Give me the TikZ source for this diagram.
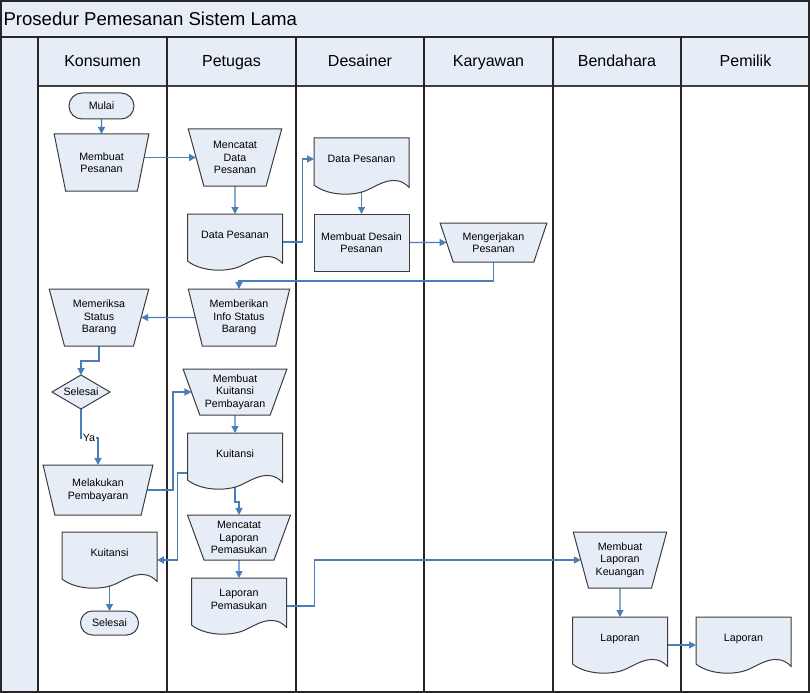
\documentclass[tikz,border=0pt]{standalone}
\usepackage{fontspec}
\setmainfont{Liberation Sans}
\usetikzlibrary{shapes.geometric,shapes.misc,arrows.meta,calc}
\definecolor{lite}{RGB}{231,237,247}
\definecolor{conn}{RGB}{74,126,187}
\definecolor{edge}{RGB}{60,60,60}
\pgfdeclarelayer{lanes}
\pgfdeclarelayer{links}
\pgfdeclarelayer{docs}
\pgfsetlayers{lanes,links,docs,main}
\newcommand\doctext[1]{\raisebox{3bp}[0pt][0pt]{\begin{tabular}{@{}c@{}}#1\end{tabular}}}
\newcommand\docshape[1]{%
  \path[docfill] (#1.north west) -- (#1.north east)
   -- ([shift={(95,49.3)}]#1.north west)
   .. controls ([shift={(80.75,34.7)}]#1.north west) and ([shift={(64.6,47)}]#1.north west) .. ([shift={(53.2,52.1)}]#1.north west)
   .. controls ([shift={(39.9,58.2)}]#1.north west) and ([shift={(14.25,58.2)}]#1.north west) .. ([shift={(0,47)}]#1.north west)
   -- cycle;}
\tikzset{
  base/.style={outer sep=0pt, inner sep=1bp, align=center, text=black},
  trap/.style={base, trapezium, trapezium stretches=true, draw=edge, fill=lite, line width=1bp},
  doc/.style={base, rectangle, minimum width=95bp, minimum height=56bp},
  docfill/.style={fill=lite, draw=edge, line width=1bp},
  procbox/.style={base, rectangle, draw=edge, fill=lite, line width=1bp},
  term/.style={base, rounded rectangle, draw=edge, fill=lite, line width=1bp},
  decision/.style={base, diamond, draw=edge, fill=lite, line width=1bp, inner sep=0pt},
  hdr/.style={base, inner sep=0pt, text height=11.5bp, text depth=3.4bp, font=\fontsize{16bp}{19bp}\selectfont},
  lane/.style={draw=black!85, line width=1.8bp},
  link/.style={draw=conn, line width=1.2bp, -{Triangle[length=7bp,width=7bp]}},
  yalbl/.style={base, fill=white, inner sep=0.5bp}
}
\begin{document}
\begin{tikzpicture}[x=1bp, y=-1bp, font=\fontsize{10.67bp}{12.5bp}\selectfont]
\useasboundingbox (0,0) rectangle (810,693);
\begin{pgfonlayer}{lanes}
  \fill[lite] (0,0) rectangle (810,693);
  \fill[white] (38,86) rectangle (810,693);
  \draw[lane] (0,37) -- (810,37);
  \draw[draw=black!75, line width=1.4bp] (38,86) -- (810,86);
  \foreach \lx in {38,167,296,424,553,681} {\draw[lane] (\lx,37) -- (\lx,693);}
  \draw[line width=2bp, draw=black!85] (1,1) rectangle (809,692);
\end{pgfonlayer}

% title and headers
\node[base, anchor=base west, inner sep=0pt, font=\fontsize{18.6bp}{22bp}\selectfont] (title) at (3.5,25.5) {Prosedur Pemesanan Sistem Lama};
\node[hdr] (hkon) at (102.5,62) {Konsumen};
\node[hdr] (hpet) at (231.5,62) {Petugas};
\node[hdr] (hdes) at (360,62) {Desainer};
\node[hdr] (hkar) at (488.5,62) {Karyawan};
\node[hdr] (hben) at (617,62) {Bendahara};
\node[hdr] (hpem) at (745.5,62) {Pemilik};

% Konsumen
\node[term, minimum width=67bp, minimum height=26bp] (mu) at (101.5,106) {Mulai};
\node[trap, minimum width=95bp, minimum height=57bp, trapezium left angle=108.4, trapezium right angle=108.4] (mp) at (101.5,162.5) {Membuat\\Pesanan};
\node[trap, minimum width=100bp, minimum height=57bp, trapezium left angle=108, trapezium right angle=108] (mm) at (99,317.5) {Memeriksa\\Status\\Barang};
\node[decision, minimum width=58bp, minimum height=34bp, aspect=1.7] (sd) at (81,392) {Selesai};
\node[trap, minimum width=110bp, minimum height=50bp, trapezium left angle=109.3, trapezium right angle=109.3] (mlk) at (98,490) {Melakukan\\Pembayaran};
\node[doc] (kt2) at (109.5,560) {\doctext{Kuitansi}};
\node[term, minimum width=60bp, minimum height=24bp] (se) at (109.5,623) {Selesai};

% Petugas
\node[trap, minimum width=94bp, minimum height=57bp, trapezium left angle=108.4, trapezium right angle=108.4] (mc) at (235,157.5) {Mencatat\\Data\\Pesanan};
\node[doc] (dp1) at (235,242) {\doctext{Data Pesanan}};
\node[trap, minimum width=102bp, minimum height=57bp, trapezium left angle=107.5, trapezium right angle=107.5] (mb) at (239,317.5) {Memberikan\\Info Status\\Barang};
\node[trap, minimum width=104bp, minimum height=46bp, trapezium left angle=111.9, trapezium right angle=111.9] (mkp) at (235,392) {Membuat\\Kuitansi\\Pembayaran};
\node[doc] (kt1) at (235,461) {\doctext{Kuitansi}};
\node[trap, minimum width=104bp, minimum height=45bp, trapezium left angle=111.8, trapezium right angle=111.8] (mlp) at (239,537.5) {Mencatat\\Laporan\\Pemasukan};
\node[doc] (lp) at (239,606) {\doctext{Laporan\\Pemasukan}};

% Desainer
\node[doc] (dp2) at (361.5,166) {\doctext{Data Pesanan}};
\node[procbox, minimum width=95bp, minimum height=57bp] (md) at (361.5,242.5) {Membuat Desain\\Pesanan};

% Karyawan
\node[trap, minimum width=107bp, minimum height=39bp, trapezium left angle=114.8, trapezium right angle=114.8] (mk) at (493.5,242.5) {Mengerjakan\\Pesanan};

% Bendahara
\node[trap, minimum width=94bp, minimum height=56bp, trapezium left angle=108.3, trapezium right angle=108.3] (mlu) at (620,560) {Membuat\\Laporan\\Keuangan};
\node[doc] (lap1) at (620,645) {\doctext{Laporan}};

% Pemilik
\node[doc] (lap2) at (743.5,645) {\doctext{Laporan}};

\begin{pgfonlayer}{docs}
  \docshape{dp1}\docshape{dp2}\docshape{kt1}\docshape{kt2}\docshape{lp}\docshape{lap1}\docshape{lap2}
\end{pgfonlayer}

\begin{pgfonlayer}{links}
  \draw[link] (mu.south) -- (mp.north);
  \draw[link] (mp.east |- mc.west) -- (mc.west);
  \draw[link] (mc.south) -- (dp1.north);
  \draw[link] (dp1.east) -- ++(20,0) |- ($(dp2.west)+(0,-7)$);
  \draw[link] (dp2.center) -- (md.north);
  \draw[link] (md.east) -- (mk.west);
  \draw[link] (mk.south) -- ++(0,19) -| (mb.north);
  \draw[link] (mb.west) -- (mm.east);
  \draw[link] (mm.south) -- ++(0,15) -| (sd.north);
  \draw[link] (sd.south) -- ++(0,29) coordinate (yc) -| (mlk.north);
  \draw[link] (mlk.east) -- ++(26,0) |- (mkp.west);
  \draw[link] (mkp.south) -- (kt1.north);
  \draw[link] ($(kt1.west)+(0,12)$) -- ++(-10,0) |- (kt2.east);
  \draw[link] (kt1.center) |- ($(kt1.south)!0.5!(mlp.north)$) -| (mlp.north);
  \draw[link] (mlp.south) -- (lp.north);
  \draw[link] (kt2.center) -- (se.north);
  \draw[link] (lp.east) -- ++(28,0) |- (mlu.west);
  \draw[link] (mlu.south) -- (lap1.north);
  \draw[link] (lap1.east) -- (lap2.west);
\end{pgfonlayer}
\node[yalbl] (ya) at ($(yc)+(8,0)$) {Ya};
\end{tikzpicture}
\end{document}
